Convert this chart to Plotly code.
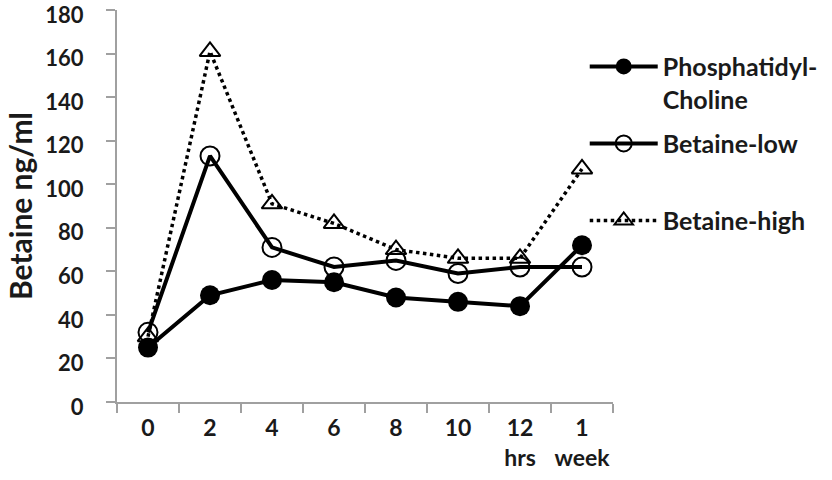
import plotly.graph_objects as go

categories = ["0", "2", "4", "6", "8", "10", "12", "1"]
tick_labels = ["0", "2", "4", "6", "8", "10", "12<br>hrs", "1<br>week"]
phosphatidyl_choline = [25, 49, 56, 55, 48, 46, 44, 72]
betaine_low = [32, 113, 71, 62, 65, 59, 62, 62]
betaine_high = [30, 161, 91, 82, 70, 66, 66, 107]

FONT = "Lato"
TXT = "#1a1a1a"

fig = go.Figure()
fig.add_trace(go.Scatter(
    x=categories, y=betaine_high, name="Betaine-high", mode="lines+markers",
    line=dict(color="black", width=3.5, dash="dot"),
    marker=dict(symbol="triangle-up-open", size=18, color="black", line=dict(width=2)),
    legendrank=3, legendgroup="c"))
fig.add_trace(go.Scatter(
    x=categories, y=betaine_low, name="Betaine-low<br> ", mode="lines+markers",
    line=dict(color="black", width=4),
    marker=dict(symbol="circle-open", size=19, color="black", line=dict(width=2)),
    legendrank=2, legendgroup="b"))
fig.add_trace(go.Scatter(
    x=categories, y=phosphatidyl_choline, name="Phosphatidyl-<br>Choline", mode="lines+markers",
    line=dict(color="black", width=4),
    marker=dict(symbol="circle", size=20, color="black"),
    legendrank=1, legendgroup="a"))

fig.update_layout(
    width=832, height=480,
    margin=dict(l=117, r=219, t=10, b=78, autoexpand=False),
    plot_bgcolor="white", paper_bgcolor="white",
    font=dict(family=FONT, color=TXT),
    legend=dict(x=0.943, y=0.914, xanchor="left", yanchor="top", itemwidth=68, valign="top",
                font=dict(family=FONT, size=25, color=TXT, weight="bold"),
                tracegroupgap=9, bgcolor="rgba(0,0,0,0)"),
    xaxis=dict(type="category", tickmode="array", tickvals=categories, ticktext=tick_labels,
               showline=True, linecolor="#a0a0a0", linewidth=2, showgrid=False, automargin=False,
               ticks="outside", tickson="boundaries", ticklen=9, tickcolor="#a0a0a0", tickwidth=2,
               tickangle=0,
               tickfont=dict(family=FONT, size=23, color=TXT, weight="bold"),
               ticklabelstandoff=4, range=[-0.5, 7.5]),
    yaxis=dict(range=[0, 180], dtick=20, showline=True, linecolor="#a0a0a0", linewidth=2,
               showgrid=False, zeroline=False, ticks="outside", ticklen=9, tickcolor="#a0a0a0",
               tickwidth=2, automargin=False, ticklabeloverflow="allow",
               ticklabelstandoff=18, ticklabelshift=5,
               tickfont=dict(family=FONT, size=22, color=TXT, weight="bold"),
               title=dict(text="Betaine ng/ml", font=dict(family=FONT, size=30, color=TXT, weight="bold"),
                          standoff=4)),
)

fig.write_html("out.html", config={"displayModeBar": False},
               post_script="document.body.style.margin='0';document.body.style.padding='0';")
